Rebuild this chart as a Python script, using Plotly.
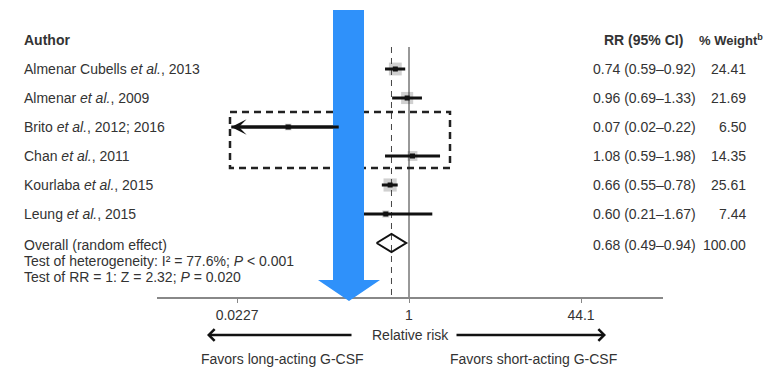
import numpy as np
import plotly.graph_objects as go

# ---------------- data ----------------
authors = ["Almenar Cubells <i>et al.</i>, 2013", "Almenar <i>et al.</i>, 2009",
           "Brito <i>et al.</i>, 2012; 2016", "Chan <i>et al.</i>, 2011",
           "Kourlaba <i>et al.</i>, 2015", "Leung <i>et al.</i>, 2015"]
rr = [0.74, 0.96, 0.07, 1.08, 0.66, 0.60]
ci_low = [0.59, 0.69, 0.02, 0.59, 0.55, 0.21]
ci_high = [0.92, 1.33, 0.22, 1.98, 0.78, 1.67]
weights = [24.41, 21.69, 6.50, 14.35, 25.61, 7.44]
overall_label = "Overall (random effect)"
overall_rr = 0.68
overall_low = 0.49
overall_high = 0.94
overall_weight = 100.00
heterogeneity_text = "Test of heterogeneity: I² = 77.6%; <i>P</i> &lt; 0.001"
test_text = "Test of RR = 1: Z = 2.32; <i>P</i> = 0.020"
tick_vals = [0.0227, 1, 44.1]
tick_text = ["0.0227", "1", "44.1"]
arrowed_study = 2  # Brito: CI truncated with arrow

# ---------------- geometry ----------------
W, H = 769, 367
ROW0, ROWH = 40, 29
PX1, K = 409, 104.6          # pixel of RR=1, pixels per decade
AX_L, AX_R, AX_Y = 157, 663, 298
FONT = "Liberation Sans, Arial, sans-serif"
TXT = "#333333"
FS = 14


def px(p):
    return p / W


def py(p):
    return 1 - p / H


def row_of(p):
    return (p - ROW0) / ROWH


rows = list(range(1, len(authors) + 1))
orow = len(authors) + 1

fig = go.Figure()

# gray weight squares
fig.add_trace(go.Scatter(
    x=rr, y=rows, mode="markers",
    marker=dict(symbol="square", size=[2.6 * np.sqrt(w) for w in weights],
                color="#bcbcbc", line=dict(width=0)),
    hoverinfo="skip", showlegend=False))

# reference lines (RR=1 solid, overall dashed)
ytop, ybot = row_of(47), row_of(AX_Y)
fig.add_trace(go.Scatter(x=[1, 1], y=[ytop, ybot], mode="lines",
                         line=dict(color="#333333", width=1),
                         hoverinfo="skip", showlegend=False))
fig.add_trace(go.Scatter(x=[overall_rr, overall_rr], y=[ytop, ybot], mode="lines",
                         line=dict(color="#444444", width=1, dash="6px,5px"),
                         hoverinfo="skip", showlegend=False))

# CI lines
for i in range(len(rr)):
    fig.add_trace(go.Scatter(x=[ci_low[i], ci_high[i]], y=[rows[i], rows[i]],
                             mode="lines", line=dict(color="#111111", width=3),
                             hoverinfo="skip", showlegend=False))

# point estimates
fig.add_trace(go.Scatter(
    x=rr, y=rows, mode="markers",
    marker=dict(symbol="square", size=5, color="#111111"),
    hoverinfo="skip", showlegend=False))

# overall diamond
h = 9 / ROWH
fig.add_trace(go.Scatter(
    x=[overall_low, overall_rr, overall_high, overall_rr, overall_low],
    y=[orow, orow - h, orow, orow + h, orow],
    mode="lines", line=dict(color="#111111", width=2),
    hoverinfo="skip", showlegend=False))

ann = []


def txt(x, y, s, anchor="left", yref="y", size=FS, bold=False):
    if bold:
        s = "<b>" + s + "</b>"
    ann.append(dict(x=x, y=y, xref="paper", yref=yref, text=s, showarrow=False,
                    xanchor=anchor, yanchor="middle",
                    font=dict(family=FONT, size=size, color=TXT)))


# header
txt(px(22), 0, "Author", bold=True)
txt(px(643), 0, "RR (95% CI)", anchor="center", bold=True)
txt(px(765), 0, "% Weight<sup>b</sup>", anchor="right", size=13, bold=True)

for i, a in enumerate(authors):
    txt(px(22), rows[i], a)
    txt(px(698), rows[i], f"{rr[i]:.2f} ({ci_low[i]:.2f}–{ci_high[i]:.2f})", anchor="right")
    txt(px(748), rows[i], f"{weights[i]:.2f}", anchor="right")

txt(px(22), row_of(245), overall_label)
txt(px(698), row_of(245), f"{overall_rr:.2f} ({overall_low:.2f}–{overall_high:.2f})", anchor="right")
txt(px(748), row_of(245), f"{overall_weight:.2f}", anchor="right")
txt(px(22), row_of(261), heterogeneity_text)
txt(px(22), row_of(277), test_text)

# bottom labels
txt(px(410), py(335), "Relative risk", anchor="center", yref="paper")
txt(px(282), py(359), "Favors long-acting G-CSF", anchor="center", yref="paper")
txt(px(533), py(359), "Favors short-acting G-CSF", anchor="center", yref="paper")

# bottom direction arrows
ann.append(dict(x=px(207), y=py(335), xref="paper", yref="paper", text="",
                showarrow=True, ax=146, ay=0, arrowhead=4, arrowsize=0.9,
                arrowwidth=2.5, arrowcolor="#111111"))
ann.append(dict(x=px(606), y=py(335), xref="paper", yref="paper", text="",
                showarrow=True, ax=-151, ay=0, arrowhead=4, arrowsize=0.9,
                arrowwidth=2.5, arrowcolor="#111111"))

# truncated CI arrowhead for Brito
ann.append(dict(x=np.log10(ci_low[arrowed_study]), y=rows[arrowed_study],
                xref="x", yref="y", text="", showarrow=True,
                axref="x", ayref="y",
                ax=np.log10(ci_high[arrowed_study]), ay=rows[arrowed_study],
                arrowhead=3, arrowsize=0.85, arrowwidth=3, arrowcolor="#111111"))

# dashed highlight box and blue arrow
shapes = [
    dict(type="rect", xref="paper", yref="paper",
         x0=px(230), x1=px(450), y0=py(112), y1=py(168),
         line=dict(color="#222222", width=2.5, dash="7px,5px"), layer="above"),
    dict(type="path", xref="paper", yref="paper",
         path=(f"M{px(333)},{py(10)} L{px(364)},{py(10)} L{px(364)},{py(280)} "
               f"L{px(380)},{py(280)} L{px(349)},{py(301)} L{px(318)},{py(280)} "
               f"L{px(333)},{py(280)} Z"),
         fillcolor="#2f91fa", line=dict(width=0), layer="above"),
]

fig.update_layout(
    width=W, height=H, margin=dict(l=0, r=0, t=0, b=0),
    paper_bgcolor="white", plot_bgcolor="white",
    showlegend=False, annotations=ann, shapes=shapes,
    xaxis=dict(type="log", domain=[px(AX_L), px(AX_R)],
               range=[(AX_L - PX1) / K, (AX_R - PX1) / K],
               tickvals=tick_vals, ticktext=tick_text,
               ticks="outside", ticklen=4, tickcolor="#888888", tickwidth=1,
               showline=True, linecolor="#888888", linewidth=1.5,
               showgrid=False, zeroline=False,
               anchor="free", position=py(AX_Y),
               tickfont=dict(family=FONT, size=FS, color=TXT)),
    yaxis=dict(range=[(H - ROW0) / ROWH, -ROW0 / ROWH], domain=[0, 1],
               visible=False, showgrid=False, zeroline=False),
)

fig.write_html("out.html", config={"displayModeBar": False},
               post_script="document.body.style.margin='0px';"
                           "document.body.style.padding='0px';"
                           "document.body.style.overflow='hidden';")
